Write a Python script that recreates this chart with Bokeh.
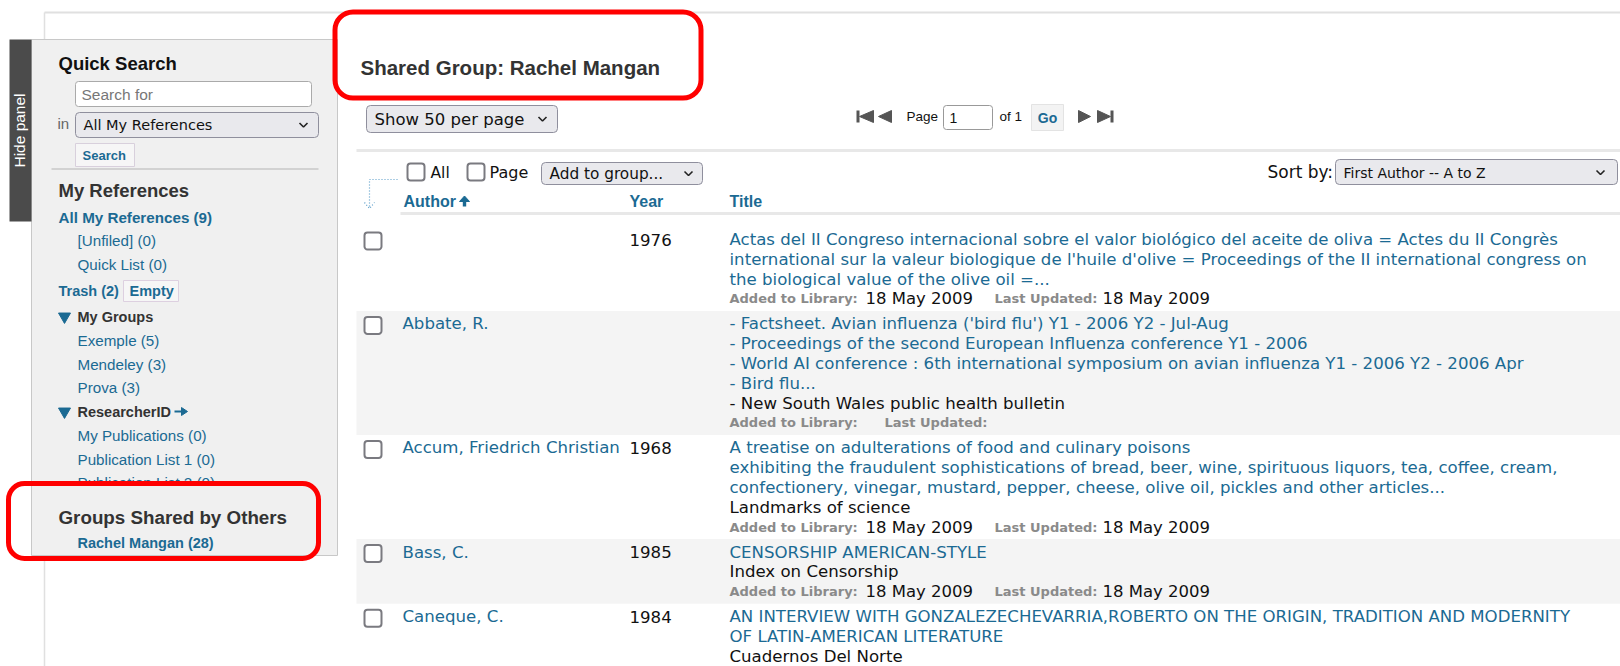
import math
from bokeh.plotting import figure
from bokeh.models import Range1d
from bokeh.core.properties import value
from bokeh.embed import file_html
from bokeh.resources import INLINE

# ---------------- data (texts of the page) ----------------
quick_search_title = "Quick Search"
search_placeholder = "Search for"
search_scope = "All My References"
search_button = "Search"
my_refs_title = "My References"
my_refs_main = "All My References (9)"
my_refs_sub = ["[Unfiled] (0)", "Quick List (0)"]
trash_label = "Trash (2)"
empty_label = "Empty"
my_groups_title = "My Groups"
my_groups = ["Exemple (5)", "Mendeley (3)", "Prova (3)"]
researcher_title = "ResearcherID"
researcher_lists = ["My Publications (0)", "Publication List 1 (0)", "Publication List 2 (0)"]
shared_title = "Groups Shared by Others"
shared_groups = ["Rachel Mangan (28)"]
hide_panel = "Hide panel"

page_title = "Shared Group: Rachel Mangan"
per_page = "Show 50 per page"
page_word, page_num, page_of, go_label = "Page", "1", "of 1", "Go"
sort_label = "Sort by:"
sort_option = "First Author -- A to Z"
check_labels = ["All", "Page"]
add_to_group = "Add to group..."
column_headers = ["Author", "Year", "Title"]

authors = ["", "Abbate, R.", "Accum, Friedrich Christian", "Bass, C.", "Caneque, C."]
years = ["1976", "", "1968", "1985", "1984"]
titles = [
    ["Actas del II Congreso internacional sobre el valor biológico del aceite de oliva = Actes du II Congrès",
     "international sur la valeur biologique de l'huile d'olive = Proceedings of the II international congress on",
     "the biological value of the olive oil =..."],
    ["- Factsheet. Avian influenza ('bird flu') Y1 - 2006 Y2 - Jul-Aug",
     "- Proceedings of the second European Influenza conference Y1 - 2006",
     "- World AI conference : 6th international symposium on avian influenza Y1 - 2006 Y2 - 2006 Apr",
     "- Bird flu..."],
    ["A treatise on adulterations of food and culinary poisons",
     "exhibiting the fraudulent sophistications of bread, beer, wine, spirituous liquors, tea, coffee, cream,",
     "confectionery, vinegar, mustard, pepper, cheese, olive oil, pickles and other articles..."],
    ["CENSORSHIP AMERICAN-STYLE"],
    ["AN INTERVIEW WITH GONZALEZECHEVARRIA,ROBERTO ON THE ORIGIN, TRADITION AND MODERNITY",
     "OF LATIN-AMERICAN LITERATURE"],
]
sources = ["", "- New South Wales public health bulletin", "Landmarks of science",
           "Index on Censorship", "Cuadernos Del Norte"]
added_dates = ["18 May 2009", "", "18 May 2009", "18 May 2009", "18 May 2009"]
updated_dates = ["18 May 2009", "", "18 May 2009", "18 May 2009", "18 May 2009"]
added_label = "Added to Library:"
updated_label = "Last Updated:"

# ---------------- styles ----------------
BLUE = "#1b6a93"
DARK = "#333333"
BLACK = "#111111"
PANEL = "#f0f0f0"
ROWGRAY = "#f4f4f4"
RED = "#ff0000"
SANS = "Liberation Sans"
VER = "DejaVu Sans"
TABLE_SIZE = 16.6
LINK_SIZE = 15.2

p = figure(width=1620, height=666, x_range=Range1d(0, 1620), y_range=Range1d(666, 0),
           output_backend="svg", toolbar_location=None, min_border=0,
           x_axis_location=None, y_axis_location=None)
p.grid.visible = False
p.outline_line_color = None
p.background_fill_color = "white"
p.border_fill_color = "white"


def box(l, r, t, b, fill, line=None, lw=1.0, radius=0):
    p.quad(left=[l], right=[r], top=[t], bottom=[b], fill_color=fill,
           line_color=line, line_width=lw, border_radius=radius)


def txt(x, y, s, size=14.5, color=BLACK, font=SANS, bold=False, align="left", angle=0.0):
    if not s:
        return
    p.text(x=[x], y=[y], text=[s], text_font=value(font), text_font_size=f"{size}px",
           text_font_style="bold" if bold else "normal", text_color=color,
           text_align=align, text_baseline="middle", angle=angle)


def hline(x0, x1, y, color="#e2e2e2", lw=1.0):
    p.line([x0, x1], [y, y], line_color=color, line_width=lw)


def chevron(cx, cy):
    p.line([cx - 4, cx, cx + 4], [cy - 2, cy + 2, cy - 2], line_color="#222222", line_width=1.6)


def tri(x_tip, x_base, cy, h, color="#555555"):
    p.patch([x_tip, x_base, x_base], [cy, cy - h, cy + h], fill_color=color, line_color=color)


def checkbox(l, t, size=17):
    box(l, l + size, t, t + size, "white", "#7a7a80", 2, 3)


# ---------------- page frame ----------------
hline(44, 1620, 12, "#e0e0e0", 2)
p.line([44, 44], [12, 666], line_color="#e0e0e0", line_width=1.5)

# ---------------- left panel ----------------
box(31, 337, 39, 555, PANEL, "#c8c8c8", 1)
box(9, 31, 39, 221, "#4b4b4b", None)
txt(19, 130, hide_panel, 15.5, "white", SANS, angle=math.pi / 2, align="center")

txt(58, 63, quick_search_title, 18.5, BLACK, SANS, bold=True)
box(75, 311, 81, 106, "white", "#aaaaaa", 1, 3)
txt(81, 94, search_placeholder, 15.5, "#777777", SANS)
txt(57, 123, "in", 15, "#666666", SANS)
box(75, 318, 112, 137, "#e9e9ed", "#8f8f9d", 1, 4)
txt(83, 124.5, search_scope, 14.5, BLACK, VER)
chevron(303, 124.5)
box(75, 134, 143, 166, "#f6f6f6", "#d8d0dc", 1)
txt(82, 154.5, search_button, 13, BLUE, SANS, bold=True)
hline(51, 318, 168.5, "#c8c8c8", 1.5)

txt(58, 190, my_refs_title, 18.5, DARK, SANS, bold=True)
txt(58, 217, my_refs_main, LINK_SIZE, BLUE, SANS, bold=True)
for i, s in enumerate(my_refs_sub):
    txt(77, 240 + i * 24, s, LINK_SIZE, BLUE, SANS)
txt(58, 290, trash_label, 14.5, BLUE, SANS, bold=True)
box(123, 178, 280, 301, "#f6f6f6", "#ddd0e0", 1)
txt(129, 290.5, empty_label, 14.5, BLUE, SANS, bold=True)

p.scatter([64], [316], marker="inverted_triangle", size=12, fill_color=BLUE, line_color=BLUE)
txt(77, 316, my_groups_title, 14.5, DARK, SANS, bold=True)
for i, s in enumerate(my_groups):
    txt(77, 340 + i * 23.6, s, LINK_SIZE, BLUE, SANS)
p.scatter([64], [411], marker="inverted_triangle", size=12, fill_color=BLUE, line_color=BLUE)
txt(77, 411, researcher_title, 14.5, DARK, SANS, bold=True)
p.line([174, 182], [411, 411], line_color=BLUE, line_width=2)
tri(187, 181, 411, 4, BLUE)
for i, s in enumerate(researcher_lists):
    txt(77, 435 + i * 23.6, s, LINK_SIZE, BLUE, SANS)
# the annotation box interior hides the lower part of the last list item
box(32, 336.5, 485.5, 554.5, PANEL, None)
txt(58, 517, shared_title, 18.8, DARK, SANS, bold=True)
for i, s in enumerate(shared_groups):
    txt(77, 542 + i * 24, s, 14.5, BLUE, SANS, bold=True)

# ---------------- header area ----------------
txt(360, 67, page_title, 20.5, DARK, SANS, bold=True)
box(366, 557, 105, 132, "#e9e9ed", "#8f8f9d", 1, 4)
txt(374, 118.5, per_page, 16.5, BLACK, VER)
chevron(542, 118.5)

# pagination
p.quad(left=[856], right=[859], top=[110], bottom=[122], fill_color="#555555", line_color=None)
tri(859, 873, 116, 6)
tri(878, 891, 116, 6)
txt(906, 116, page_word, 13.5, BLACK, SANS)
box(943, 992, 105, 129, "white", "#999999", 1, 3)
txt(949, 117, page_num, 14, BLACK, SANS)
txt(999, 116, page_of, 13.5, BLACK, SANS)
box(1031, 1063, 104, 130, "#f3f3f3", "#e3e3e3", 1)
txt(1047, 117, go_label, 14, BLUE, SANS, bold=True, align="center")
tri(1090, 1078, 116, 6)
tri(1110, 1097, 116, 6)
p.quad(left=[1110], right=[1113], top=[110], bottom=[122], fill_color="#555555", line_color=None)

hline(356, 1620, 150, "#e8e8e8", 3)

# selection controls
p.line([397, 369, 369], [179, 179, 207], line_color="#5b9dc9", line_width=1.2, line_dash="1 2")
p.line([364, 369, 374], [202, 208, 202], line_color="#5b9dc9", line_width=1.2, line_dash="1 2")
checkbox(407, 163)
txt(430, 172, check_labels[0], 15.5, BLACK, VER)
checkbox(467, 163)
txt(489, 172, check_labels[1], 16, BLACK, VER)
box(541, 702, 162, 184, "#e9e9ed", "#8f8f9d", 1, 4)
txt(549, 173, add_to_group, 15.3, BLACK, VER)
chevron(688, 173)

txt(1267, 171, sort_label, 17, BLACK, VER)
box(1335, 1617, 159, 184, "#e9e9ed", "#8f8f9d", 1, 4)
txt(1343, 172, sort_option, 14, BLACK, VER)
chevron(1600, 172)

# column headers
header_x = [403, 629, 729]
for hx, h in zip(header_x, column_headers):
    txt(hx, 201, h, 16, BLUE, SANS, bold=True)
p.patch([459, 464, 469], [201, 195.5, 201], fill_color=BLUE, line_color=BLUE)
p.quad(left=[462.3], right=[465.7], top=[200], bottom=[206], fill_color=BLUE, line_color=None)
hline(400, 1620, 213, "#e8e8e8", 3)

# ---------------- result rows ----------------
LINE_H = 19.8
ROW_GAP = 25
layout = []
y = 239.0
for i in range(len(authors)):
    lines = [(t, BLUE) for t in titles[i]]
    if sources[i]:
        lines.append((sources[i], BLACK))
    first = y
    ys = []
    for _ in lines:
        ys.append(y)
        y += LINE_H
    added_y = y
    layout.append((first, lines, ys, added_y))
    y = added_y + ROW_GAP

for i, (first, lines, ys, added_y) in enumerate(layout):
    if i % 2 == 1:
        box(356, 1620, first - 13, added_y + 12, ROWGRAY, None)

for i, (first, lines, ys, added_y) in enumerate(layout):
    checkbox(364, first - 7)
    txt(402, first, authors[i], TABLE_SIZE, BLUE, VER)
    txt(629, first, years[i], TABLE_SIZE, BLACK, VER)
    for (s, c), ly in zip(lines, ys):
        txt(729, ly, s, TABLE_SIZE, c, VER)
    if added_y < 660:
        txt(729, added_y, added_label, 13, "#8a8a8a", VER, bold=True)
        txt(865, added_y, added_dates[i], 16.5, BLACK, VER)
        lx = 994 if added_dates[i] else 884
        txt(lx, added_y, updated_label, 13, "#8a8a8a", VER, bold=True)
        txt(lx + 108, added_y, updated_dates[i], 16.5, BLACK, VER)

# ---------------- red annotation boxes ----------------
box(334.5, 700.5, 11.5, 97.5, None, RED, 5, 18)
box(8, 318, 483, 558, None, RED, 5, 16)

open("out.html", "w").write(file_html(p, INLINE))
